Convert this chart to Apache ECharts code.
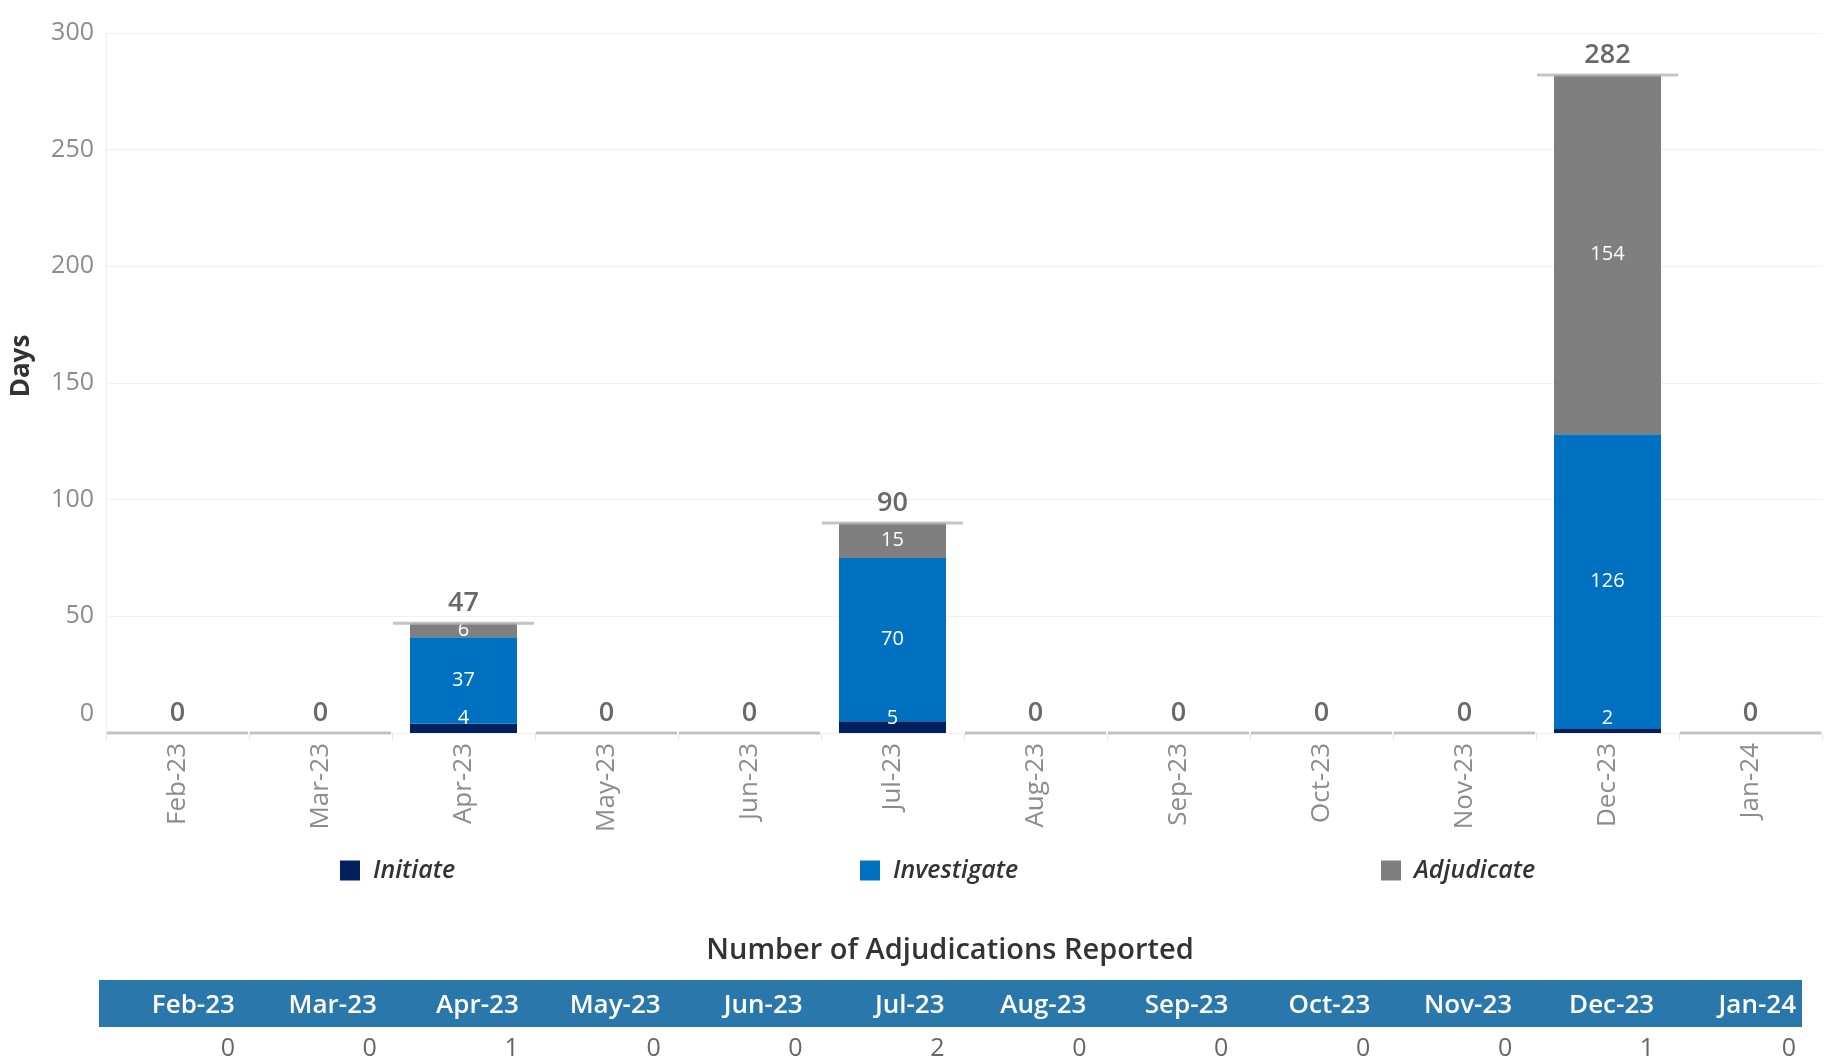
<!DOCTYPE html>
<html>
<head>
<meta charset="utf-8">
<script src="https://cdn.jsdelivr.net/npm/echarts@6/dist/echarts.min.js"></script>
<style>
html,body{margin:0;padding:0;background:#fff;}
#chart{width:1824px;height:1063px;}
</style>
</head>
<body>
<div id="chart"></div>
<script>
const months = ['Feb-23','Mar-23','Apr-23','May-23','Jun-23','Jul-23','Aug-23','Sep-23','Oct-23','Nov-23','Dec-23','Jan-24'];
const initiate = [0,0,4,0,0,5,0,0,0,0,2,0];
const investigate = [0,0,37,0,0,70,0,0,0,0,126,0];
const adjudicate = [0,0,6,0,0,15,0,0,0,0,154,0];
const totals = [0,0,47,0,0,90,0,0,0,0,282,0];
const adjudicationCounts = [0,0,1,0,0,2,0,0,0,0,1,0];
const yMin = 0, yMax = 300, yInterval = 50;
const seriesNames = ['Initiate','Investigate','Adjudicate'];
const seriesColors = ['#002060','#0070c0','#7f7f7f'];

const FONT = '"Open Sans", "Noto Sans", sans-serif';
const chart = echarts.init(document.getElementById('chart'));

function segLabel(pos, dist) {
  return {
    show: true, position: pos, distance: dist,
    color: '#ffffff', fontSize: 20, fontFamily: FONT,
    formatter: p => (p.value ? String(p.value) : '')
  };
}

const legendBase = {
  icon: 'rect', itemWidth: 20, itemHeight: 20, top: 853,
  textStyle: { fontStyle: 'italic', fontWeight: 600, fontSize: 25, color: '#333', fontFamily: FONT, padding: [0,0,0,8] },
  selectedMode: false
};

chart.setOption({
  textStyle: { fontFamily: FONT },
  animation: false,
  grid: [
    { left: 106, right: 2, top: 33, height: 700, containLabel: false },
    { left: 99, right: 22, top: 980, height: 47, show: true, backgroundColor: '#2a78ab', borderWidth: 0 }
  ],
  legend: [
    Object.assign({}, legendBase, { left: 335, data: [seriesNames[0]] }),
    Object.assign({}, legendBase, { left: 855, data: [seriesNames[1]] }),
    Object.assign({}, legendBase, { left: 1376, data: [seriesNames[2]] })
  ],
  xAxis: [
    {
      type: 'category', data: months, gridIndex: 0,
      axisLine: { show: false },
      axisTick: { show: true, interval: 0, length: 7, lineStyle: { color: '#e6e6e6' } },
      axisLabel: { interval: 0, rotate: 90, margin: 10, color: '#8c8c8c', fontSize: 26, fontFamily: FONT }
    },
    {
      type: 'category', data: months, gridIndex: 1, position: 'bottom',
      axisLine: { show: false }, axisTick: { show: false },
      axisLabel: {
        interval: 0, margin: 9,
        formatter: (v, i) => '{c|' + adjudicationCounts[i] + '}',
        rich: { c: { width: 130, align: 'right', fontSize: 25, color: '#666', fontFamily: FONT } }
      }
    },
    {
      type: 'category', data: months, gridIndex: 1, position: 'top',
      axisLine: { show: false }, axisTick: { show: false },
      axisLabel: {
        interval: 0, inside: true, margin: 13,
        formatter: v => '{h|' + v + '}',
        rich: { h: { width: 130, align: 'right', fontSize: 26, fontWeight: 600, color: '#ffffff', fontFamily: FONT } }
      }
    }
  ],
  yAxis: [
    {
      type: 'value', gridIndex: 0, min: yMin, max: yMax, interval: yInterval,
      axisLine: { show: true, lineStyle: { color: '#eeeeee' } },
      axisTick: { show: false },
      splitLine: { lineStyle: { color: '#f0f0f0', width: 1 } },
      axisLabel: {
        margin: 12, color: '#8c8c8c', fontSize: 25, fontFamily: FONT,
        formatter: v => (v === 0 ? '{z|0}' : String(v)),
        rich: { z: { padding: [0, 0, 38, 0], fontSize: 25, color: '#8c8c8c', fontFamily: FONT } }
      }
    },
    { type: 'value', gridIndex: 1, min: 0, max: 1, show: false }
  ],
  graphic: [
    {
      type: 'text', x: 22, y: 366, rotation: Math.PI / 2,
      style: { text: 'Days', fontSize: 26, fontWeight: 'bold', fill: '#333', fontFamily: FONT, align: 'center', verticalAlign: 'middle' }
    },
    {
      type: 'text', x: 950, y: 951,
      style: { text: 'Number of Adjudications Reported', fontSize: 29, fontWeight: 600, fill: '#333', fontFamily: FONT, align: 'center', verticalAlign: 'middle' }
    }
  ],
  series: [
    {
      name: seriesNames[0], type: 'bar', stack: 'days', barWidth: 107, data: initiate,
      itemStyle: { color: seriesColors[0] }, label: segLabel('insideBottom', 5)
    },
    {
      name: seriesNames[1], type: 'bar', stack: 'days', barWidth: 107, data: investigate,
      itemStyle: { color: seriesColors[1] }, label: segLabel('inside', 0)
    },
    {
      name: seriesNames[2], type: 'bar', stack: 'days', barWidth: 107, data: adjudicate,
      itemStyle: { color: seriesColors[2] }, label: segLabel('inside', 0)
    },
    {
      name: 'Total', type: 'scatter', data: totals, symbol: 'rect', symbolSize: [141, 3],
      itemStyle: { color: '#b5b5b5' }, z: 5, silent: true,
      label: { show: true, position: 'top', distance: 5, fontSize: 27, fontWeight: 600, color: '#444', fontFamily: FONT }
    }
  ]
});
</script>
</body>
</html>
